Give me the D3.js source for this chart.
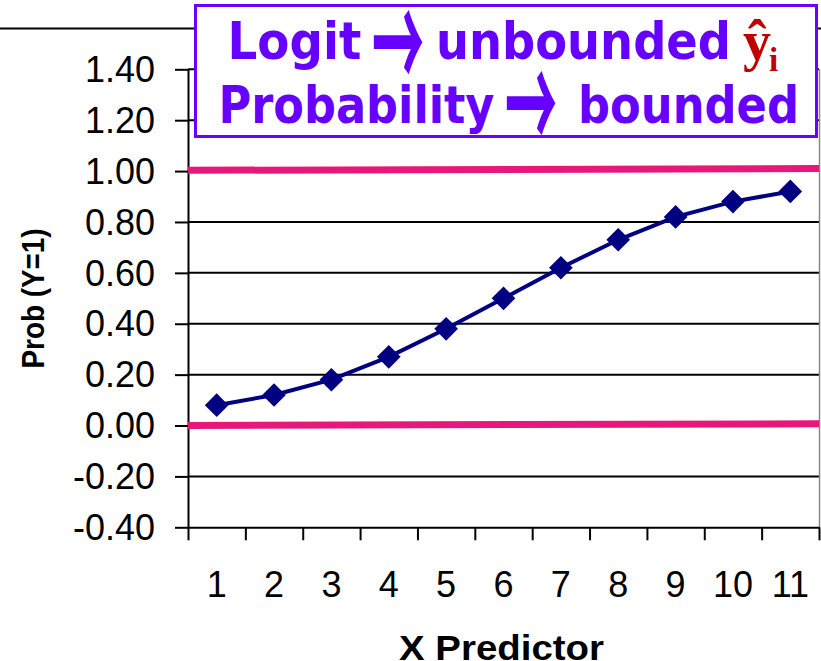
<!DOCTYPE html>
<html><head><meta charset="utf-8">
<script src="https://cdn.jsdelivr.net/npm/d3@7"></script>
<style>html,body{margin:0;padding:0;background:#fff;}svg{display:block}</style>
</head><body>
<script>
// ---- data ----
const xCategories = [1, 2, 3, 4, 5, 6, 7, 8, 9, 10, 11];
const probValues = [0.08, 0.12, 0.18, 0.27, 0.38, 0.50, 0.62, 0.73, 0.82, 0.88, 0.92];
const yTickValues = [-0.4, -0.2, 0, 0.2, 0.4, 0.6, 0.8, 1.0, 1.2, 1.4];
const boundX = [0.5, 11.5];
const upperBound = [1.003, 1.01];
const lowerBound = [0.0, 0.007];
const titleWords1 = ["Logit", "unbounded"];
const titleWords2 = ["Probability", "bounded"];
const arrowChar = "\u2192";
const titleHat = "\u0177";
const titleSub = "i";
const xTitle = "X Predictor";
const yTitle = "Prob (Y=1)";

// ---- layout ----
const W = 821, H = 661;
const svg = d3.select("body").append("svg").attr("width", W).attr("height", H);
const x = d3.scaleLinear().domain([0.5, 11.5]).range([188, 819]);
const y = d3.scaleLinear().domain([-0.4, 1.4]).range([527.3, 69.3]);

// decorative top line
svg.append("line").attr("x1", 0).attr("x2", W).attr("y1", 28.5).attr("y2", 28.5)
  .attr("stroke", "#000").attr("stroke-width", 2);

// gridlines
svg.append("g").selectAll("line").data(yTickValues.filter(v => v > -0.4)).join("line")
  .attr("x1", x(0.5)).attr("x2", x(11.5))
  .attr("y1", d => y(d)).attr("y2", d => y(d))
  .attr("stroke", "#000").attr("stroke-width", 2);

// right border
svg.append("line").attr("x1", x(11.5) + 0.5).attr("x2", x(11.5) + 0.5)
  .attr("y1", y(1.4)).attr("y2", y(-0.4))
  .attr("stroke", "#888").attr("stroke-width", 1.5);

// y axis
const gy = svg.append("g").attr("transform", `translate(${x(0.5)},0)`)
  .call(d3.axisLeft(y).tickValues(yTickValues).tickSize(13).tickSizeOuter(0).tickPadding(20)
    .tickFormat(d => d.toFixed(2)));
gy.selectAll("path,line").attr("stroke", "#000").attr("stroke-width", 2);
gy.selectAll("text").attr("font-family", "Liberation Sans, Arial, sans-serif")
  .attr("font-size", 36).attr("fill", "#000").attr("dy", "0.34em");

// x axis
const xBounds = d3.range(0.5, 12, 1);
const gx = svg.append("g").attr("transform", `translate(0,${y(-0.4)})`)
  .call(d3.axisBottom(x).tickValues(xBounds).tickSize(13).tickSizeOuter(0).tickFormat(""));
gx.selectAll("path,line").attr("stroke", "#000").attr("stroke-width", 2);

svg.append("g").selectAll("text").data(xCategories).join("text")
  .attr("x", d => x(d)).attr("y", 597)
  .attr("text-anchor", "middle")
  .attr("font-family", "Liberation Sans, Arial, sans-serif")
  .attr("font-size", 36).attr("fill", "#000")
  .text(d => d);

// bound lines
const bline = d3.line().x((d, i) => x(boundX[i])).y(d => y(d));
[upperBound, lowerBound].forEach(b => {
  svg.append("path").attr("d", bline(b)).attr("fill", "none")
    .attr("stroke", "#E8177A").attr("stroke-width", 7);
});

// series line
const sline = d3.line().x((d, i) => x(xCategories[i])).y(d => y(d));
svg.append("path").attr("d", sline(probValues)).attr("fill", "none")
  .attr("stroke", "#000080").attr("stroke-width", 4);

// markers
const diamond = d3.symbol().type(d3.symbolSquare).size(280);
svg.append("g").selectAll("path").data(probValues).join("path")
  .attr("d", diamond)
  .attr("transform", (d, i) => `translate(${x(xCategories[i])},${y(d)}) rotate(45)`)
  .attr("fill", "#000080");

// axis titles
svg.append("text")
  .attr("transform", "translate(44,298.5) rotate(-90)")
  .attr("text-anchor", "middle")
  .attr("font-family", "Liberation Sans, Arial, sans-serif")
  .attr("font-weight", "bold").attr("font-size", 31)
  .attr("textLength", 140).attr("lengthAdjust", "spacingAndGlyphs")
  .text(yTitle);

svg.append("text")
  .attr("x", 501.5).attr("y", 660)
  .attr("text-anchor", "middle")
  .attr("font-family", "Liberation Sans, Arial, sans-serif")
  .attr("font-weight", "bold").attr("font-size", 35)
  .attr("textLength", 205).attr("lengthAdjust", "spacingAndGlyphs")
  .text(xTitle);

// annotation box
svg.append("rect").attr("x", 195.5).attr("y", 5.5).attr("width", 621).attr("height", 131)
  .attr("fill", "#fff").attr("stroke", "#6A00FF").attr("stroke-width", 3);

const purple = "#6600FF";
function word(txt, xPos, yPos, len) {
  svg.append("text").attr("x", xPos).attr("y", yPos)
    .attr("font-family", "DejaVu Sans, Verdana, sans-serif").attr("font-weight", "bold")
    .attr("font-size", 51).attr("fill", purple)
    .attr("textLength", len).attr("lengthAdjust", "spacingAndGlyphs")
    .text(txt);
}
function arrow(cx, cy) {
  svg.append("text")
    .attr("transform", `translate(${cx},${cy}) scale(0.82,2.1)`)
    .attr("text-anchor", "middle").attr("dominant-baseline", "central")
    .attr("font-family", "Noto Sans CJK JP, sans-serif").attr("font-weight", "bold")
    .attr("font-size", 64).attr("fill", purple)
    .text(arrowChar);
}
word(titleWords1[0], 227.5, 59, 134);
arrow(398, 34);
word(titleWords1[1], 436, 59, 295);
word(titleWords2[0], 218.5, 123, 276);
arrow(531, 95.5);
word(titleWords2[1], 578, 123, 221);

svg.append("text").attr("x", 743).attr("y", 60)
  .attr("font-family", "Liberation Serif, Times New Roman, serif").attr("font-weight", "bold")
  .attr("font-size", 56).attr("fill", "#C00000")
  .text(titleHat);
svg.append("text").attr("x", 769).attr("y", 71)
  .attr("font-family", "Liberation Serif, Times New Roman, serif").attr("font-weight", "bold")
  .attr("font-size", 33).attr("fill", "#C00000")
  .text(titleSub);
</script>
</body></html>
